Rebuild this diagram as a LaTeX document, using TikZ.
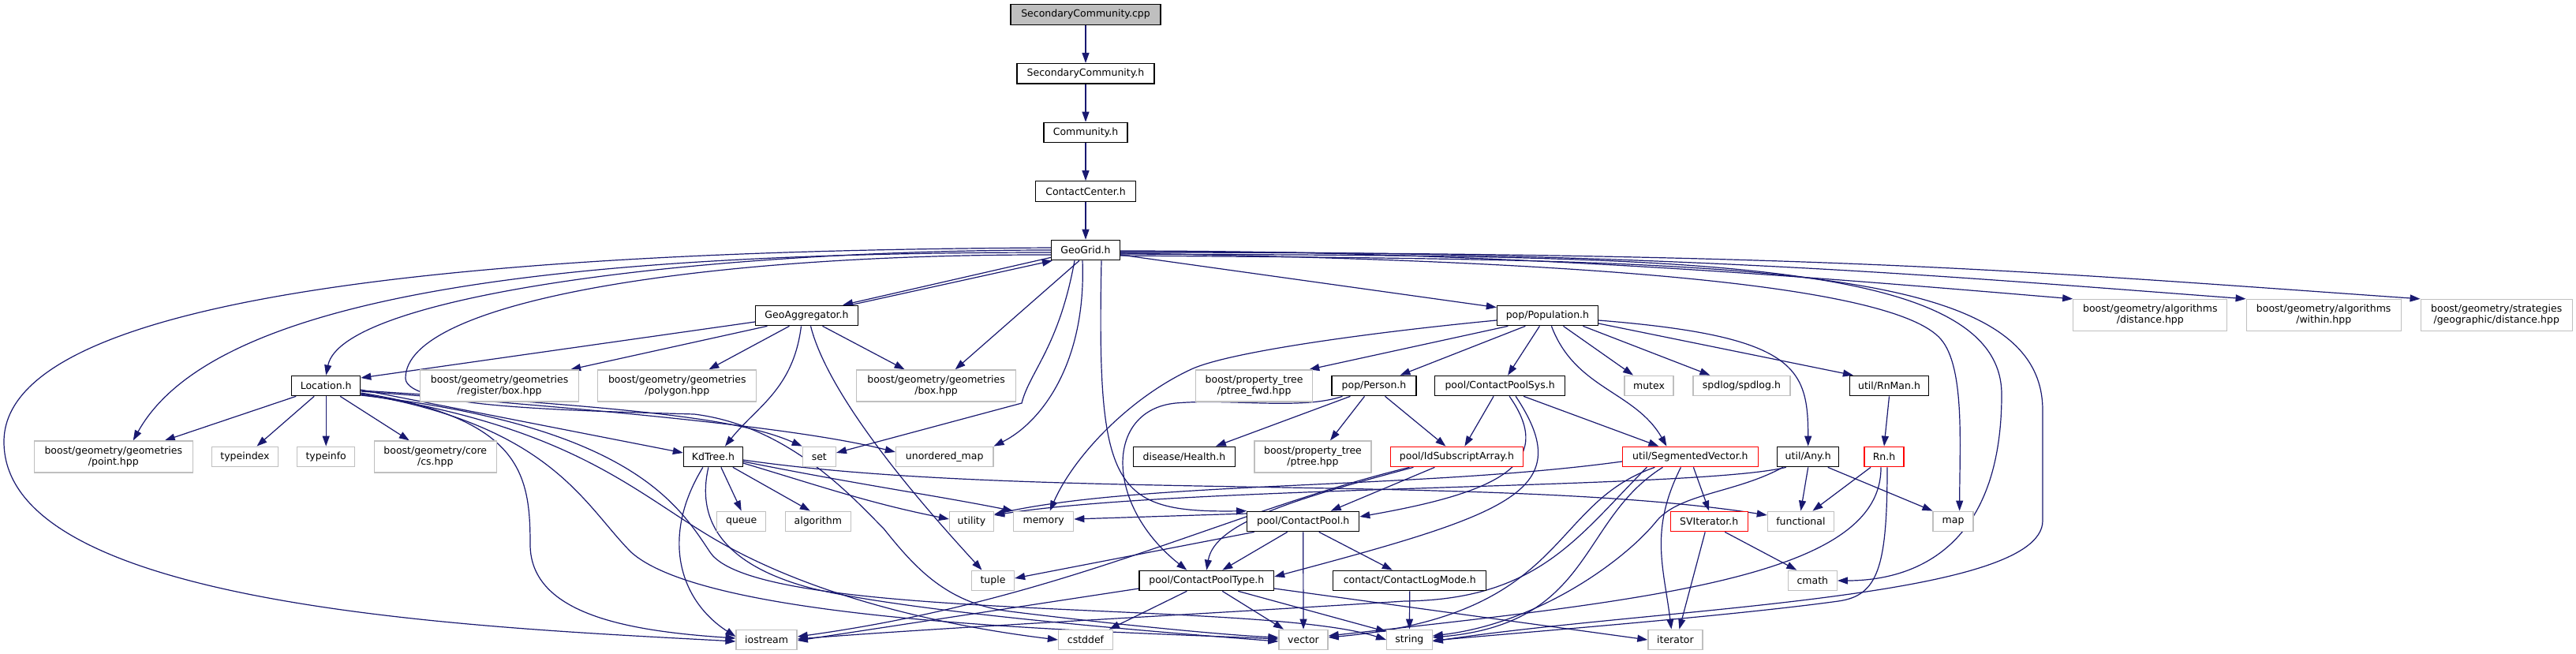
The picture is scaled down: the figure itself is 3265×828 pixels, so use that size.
\documentclass[tikz,border=0pt]{standalone}
\usepackage{fontspec}
\setmainfont{DejaVu Sans}
\usetikzlibrary{arrows.meta,backgrounds}
\definecolor{mblue}{RGB}{25,25,112}
\definecolor{gsev}{RGB}{191,191,191}
\begin{document}
\begin{tikzpicture}[x=1pt,y=-1pt,
  base/.style={fill=white, inner sep=0pt, align=center, minimum height=25.5pt, font=\fontsize{12.5}{14}\selectfont},
  blk/.style={base, draw=black, line width=1.2pt},
  rootn/.style={base, draw=black, line width=1.2pt, fill=gsev},
  gry/.style={base, draw=gsev, line width=1.3pt},
  gry2/.style={gry, minimum height=40pt},
  redn/.style={base, draw=red, line width=1.2pt},
  edg/.style={draw=mblue, line width=1.2pt, -{Triangle[length=13pt,width=9pt]}}
]
\useasboundingbox (0,0) rectangle (3265,828);
% row 0-4
\node[rootn, minimum width=190pt] (cpp) at (1376,18.5) {SecondaryCommunity.cpp};
\node[blk, minimum width=174pt] (sch) at (1376,93.3) {SecondaryCommunity.h};
\node[blk, minimum width=106pt] (com) at (1376,168) {Community.h};
\node[blk, minimum width=127pt] (cc) at (1376,242.5) {ContactCenter.h};
\node[blk, minimum width=87pt] (gg) at (1376,317) {GeoGrid.h};
% row 5
\node[blk, minimum width=130pt] (ga) at (1022.5,400) {GeoAggregator.h};
\node[blk, minimum width=128pt] (pop) at (1961.4,400) {pop/Population.h};
\node[gry2, minimum width=195pt] (bad) at (2725.3,399.5) {boost/geometry/algorithms\\/distance.hpp};
\node[gry2, minimum width=196pt] (baw) at (2945.2,399.5) {boost/geometry/algorithms\\/within.hpp};
\node[gry2, minimum width=192pt] (bsd) at (3164.2,399.5) {boost/geometry/strategies\\/geographic/distance.hpp};
% row 6
\node[blk, minimum width=87pt] (loc) at (413.2,489) {Location.h};
\node[gry2, minimum width=201pt] (brb) at (633.1,489) {boost/geometry/geometries\\/register/box.hpp};
\node[gry2, minimum width=201pt] (bpo) at (858.3,489) {boost/geometry/geometries\\/polygon.hpp};
\node[gry2, minimum width=202pt] (bbox) at (1186.6,489) {boost/geometry/geometries\\/box.hpp};
\node[gry2, minimum width=148pt] (ptf) at (1589.6,489) {boost/property\_tree\\/ptree\_fwd.hpp};
\node[blk, minimum width=107pt] (per) at (1741.5,489) {pop/Person.h};
\node[blk, minimum width=165pt] (cps) at (1901.1,489) {pool/ContactPoolSys.h};
\node[gry, minimum width=62pt] (mutex) at (2090,489) {mutex};
\node[gry, minimum width=123pt] (spd) at (2207.4,489) {spdlog/spdlog.h};
\node[blk, minimum width=100pt] (rnm) at (2394.5,489) {util/RnMan.h};
% row 7
\node[gry2, minimum width=201pt] (bpt) at (143.8,579) {boost/geometry/geometries\\/point.hpp};
\node[gry, minimum width=83.5pt] (tid) at (310.5,579) {typeindex};
\node[gry, minimum width=73pt] (tinf) at (413.2,579) {typeinfo};
\node[gry2, minimum width=155pt] (bcs) at (551.8,579) {boost/geometry/core\\/cs.hpp};
\node[blk, minimum width=75pt] (kd) at (903.9,579) {KdTree.h};
\node[gry, minimum width=42pt] (set) at (1038.3,579) {set};
\node[gry, minimum width=123.5pt] (umap) at (1197.2,579) {unordered\_map};
\node[blk, minimum width=129pt] (hea) at (1500.9,579) {disease/Health.h};
\node[gry2, minimum width=148pt] (ptr) at (1664,579) {boost/property\_tree\\/ptree.hpp};
\node[redn, minimum width=168pt] (isa) at (1846.4,579) {pool/IdSubscriptArray.h};
\node[redn, minimum width=172pt] (sv) at (2142.4,579) {util/SegmentedVector.h};
\node[blk, minimum width=78pt] (any) at (2291.7,579) {util/Any.h};
\node[redn, minimum width=50pt] (rn) at (2388,579) {Rn.h};
% row 8
\node[gry, minimum width=62pt] (queue) at (939.7,661) {queue};
\node[gry, minimum width=83pt] (alg) at (1036.8,661) {algorithm};
\node[gry, minimum width=56pt] (uti) at (1231.5,661) {utility};
\node[gry, minimum width=76pt] (mem) at (1322.7,661) {memory};
\node[blk, minimum width=142pt] (cp) at (1651.7,661) {pool/ContactPool.h};
\node[redn, minimum width=98pt] (svi) at (2166.2,661) {SVIterator.h};
\node[gry, minimum width=84pt] (fun) at (2282.4,661) {functional};
\node[gry, minimum width=51pt] (map) at (2475.6,661) {map};
% row 9
\node[gry, minimum width=54pt] (tup) at (1258.5,736) {tuple};
\node[blk, minimum width=170.5pt] (cpt) at (1529.3,736) {pool/ContactPoolType.h};
\node[blk, minimum width=194pt] (clm) at (1786.8,736) {contact/ContactLogMode.h};
\node[gry, minimum width=62pt] (cmath) at (2297.3,736) {cmath};
% row 10
\node[gry, minimum width=77pt] (ios) at (971.6,811) {iostream};
\node[gry, minimum width=69pt] (cst) at (1376,811) {cstddef};
\node[gry, minimum width=62pt] (vec) at (1652,811) {vector};
\node[gry, minimum width=57.5pt] (str) at (1786.4,811) {string};
\node[gry, minimum width=69pt] (itr) at (2123.4,811) {iterator};

\begin{scope}[on background layer]
\fill[white] (0,0) rectangle (3265,828);
% chain
\draw[edg] (cpp) -- (sch);
\draw[edg] (sch) -- (com);
\draw[edg] (com) -- (cc);
\draw[edg] (cc) -- (gg);
% GeoGrid
\draw[edg] ([yshift=4pt]gg.south west) -- ([xshift=-20pt]ga.north east);
\draw[edg] ([xshift=-10pt]ga.north east) -- ([xshift=2pt]gg.south west);
\draw[edg] (gg.west) .. controls +(-450,0) and +(20,-100) .. (loc.north);
\draw[edg] ([yshift=-3pt]gg.west) .. controls +(-650,0) and +(100,-180) .. ([xshift=25pt]bpt.north);
\draw[edg] ([yshift=3pt]gg.west) .. controls (500,318) and (5,390) .. (5,560) .. controls (5,770) and (600,795) .. ([yshift=-2pt]ios.west);
\draw[edg] ([yshift=-6pt]gg.west) .. controls (900,322) and (512,380) .. (514,480) .. controls (516,515) and (700,520) .. (880,525) .. controls (1000,540) and (1080,630) .. (1120,670) .. controls (1160,720) and (1200,765) .. (1280,775) .. controls (1400,790) and (1550,805) .. ([yshift=3pt]vec.west);
\draw[edg] ([xshift=-8pt]gg.south) -- ([xshift=24pt]bbox.north);
\draw[edg] ([xshift=-14pt]gg.south) .. controls +(-20,110) and +(10,-40) .. (1295,511) -- ([yshift=5pt]set.east);
\draw[edg] ([xshift=-4pt]gg.south) .. controls +(5,130) and +(60,-30) .. (umap.north east);
\draw[edg] ([xshift=20pt]gg.south) .. controls (1390,620) and (1410,650) .. (cp.north west);
\draw[edg] ([yshift=-6pt]gg.east) -- ([yshift=-3pt]pop.north west);
\draw[edg] ([yshift=-1pt]gg.east) .. controls +(500,0) and +(-300,-25) .. (bad.north west);
\draw[edg] ([yshift=-2pt]gg.east) .. controls +(700,0) and +(-400,-30) .. (baw.north west);
\draw[edg] ([yshift=-3pt]gg.east) .. controls +(900,0) and +(-500,-35) .. (bsd.north west);
\draw[edg] ([yshift=-4pt]gg.east) .. controls (2000,330) and (2400,360) .. (2460,430) .. controls (2490,465) and (2484,560) .. ([xshift=8pt]map.north);
\draw[edg] ([yshift=-5pt]gg.east) .. controls (2100,325) and (2537,320) .. (2537,500) .. controls (2537,700) and (2420,736) .. (cmath.east);
\draw[edg] ([yshift=-7pt]gg.east) .. controls (2200,330) and (2589,330) .. (2589,520) -- (2589,660) .. controls (2589,760) and (2100,770) .. ([yshift=-2pt]str.east);
% GeoAggregator
\draw[edg] ([yshift=-8pt]ga.west) -- ([yshift=10pt]loc.east);
\draw[edg] ([xshift=-50pt]ga.south) -- ([xshift=90pt]brb.north);
\draw[edg] ([xshift=-22pt]ga.south) -- ([xshift=40pt]bpo.north);
\draw[edg] ([xshift=20pt]ga.south) -- ([xshift=-40pt]bbox.north);
\draw[edg] ([xshift=-7pt]ga.south) .. controls +(-10,80) and +(40,-50) .. ([xshift=15pt]kd.north);
\draw[edg] ([xshift=5pt]ga.south) .. controls +(25,100) and +(-50,-55) .. ([xshift=-14pt]tup.north);
% Location
\draw[edg] ([xshift=-38pt]loc.south) -- ([xshift=65pt]bpt.north);
\draw[edg] ([xshift=-15pt]loc.south) -- ([xshift=15pt]tid.north);
\draw[edg] (loc.south) -- (tinf.north);
\draw[edg] ([xshift=18pt]loc.south) -- ([xshift=-33pt]bcs.north);
\draw[edg] ([yshift=-5pt]loc.east) -- ([yshift=5pt]kd.west);
\draw[edg] ([yshift=-6pt]loc.east) .. controls +(350,22) and +(-80,-35) .. (set.north west);
\draw[edg] ([yshift=-7pt]loc.east) .. controls +(400,30) and +(-100,-25) .. ([yshift=6pt]umap.west);
\draw[edg] ([yshift=-9pt]loc.east) .. controls (660,530) and (672,600) .. (672,690) .. controls (672,780) and (800,800) .. ([yshift=2pt]ios.west);
\draw[edg] ([yshift=-10pt]loc.east) .. controls (700,540) and (740,640) .. (800,700) .. controls (900,790) and (1400,800) .. ([yshift=1pt]vec.west);
\draw[edg] ([yshift=-11pt]loc.east) .. controls (720,540) and (800,620) .. (900,680) .. controls (1050,770) and (1250,800) .. (cst.west);
\draw[edg] ([yshift=-12pt]loc.east) .. controls (800,540) and (860,640) .. (900,700) .. controls (960,790) and (1600,760) .. (str.west);
% KdTree
\draw[edg] ([xshift=10pt]kd.south) -- (queue.north);
\draw[edg] ([xshift=25pt]kd.south) -- ([xshift=-10pt]alg.north);
\draw[edg] ([yshift=-8pt]kd.east) .. controls +(100,30) and +(-100,-20) .. ([yshift=3pt]uti.west);
\draw[edg] ([yshift=-6pt]kd.east) .. controls +(150,30) and +(-100,-20) .. (mem.north west);
\draw[edg] ([yshift=-4pt]kd.east) .. controls (1300,635) and (1900,600) .. ([yshift=8pt]fun.west);
\draw[edg] ([xshift=-13pt]kd.south) .. controls +(-55,90) and +(-70,-45) .. ([yshift=4pt]ios.west);
\draw[edg] ([xshift=-6pt]kd.south) .. controls (880,670) and (930,720) .. (1030,746) .. controls (1150,775) and (1450,800) .. ([yshift=-2pt]vec.west);
% Population
\draw[edg] ([yshift=-6pt]pop.west) .. controls (1750,420) and (1560,445) .. (1510,468) .. controls (1430,505) and (1360,580) .. ([xshift=8pt]mem.north);
\draw[edg] ([xshift=-50pt]pop.south) -- ([xshift=-5pt]ptf.north east);
\draw[edg] ([xshift=-28pt]pop.south) -- ([xshift=33pt]per.north);
\draw[edg] ([xshift=-10pt]pop.south) -- ([xshift=10pt]cps.north);
\draw[edg] ([xshift=20pt]pop.south) -- ([xshift=-20pt]mutex.north);
\draw[edg] ([xshift=45pt]pop.south) -- ([xshift=-40pt]spd.north);
\draw[edg] ([xshift=5pt]pop.south) .. controls +(30,80) and +(-40,-70) .. ([xshift=-30pt]sv.north);
\draw[edg] ([yshift=-6pt]pop.east) .. controls +(250,20) and +(0,-100) .. (any.north);
\draw[edg] ([yshift=-10pt]pop.east) -- ([xshift=5pt]rnm.north west);
% Person
\draw[edg] ([xshift=-30pt]per.south) -- ([xshift=40pt]hea.north);
\draw[edg] ([xshift=-12pt]per.south) -- ([xshift=22pt]ptr.north);
\draw[edg] ([xshift=14pt]per.south) -- ([xshift=-14pt]isa.north);
\draw[edg] ([xshift=-40pt]per.south) .. controls (1650,520) and (1560,505) .. (1490,511) .. controls (1400,520) and (1400,640) .. ([xshift=-25pt]cpt.north);
% ContactPoolSys
\draw[edg] ([xshift=-8pt]cps.south) -- ([xshift=10pt]isa.north);
\draw[edg] ([xshift=12pt]cps.south) .. controls +(62,88) and +(170,-30) .. ([yshift=6pt]cp.east);
\draw[edg] ([xshift=20pt]cps.south) .. controls +(80,120) and +(300,-80) .. ([yshift=5pt]cpt.east);
\draw[edg] ([xshift=30pt]cps.south) -- ([xshift=-40pt]sv.north);
% IdSubscriptArray
\draw[edg] ([xshift=-28pt]isa.south) -- ([xshift=35pt]cp.north);
\draw[edg] ([xshift=-55pt]isa.south) .. controls +(-150,40) and +(10,-60) .. (cpt.north);
\draw[edg] ([xshift=-60pt]isa.south) .. controls (1550,650) and (1350,760) .. ([yshift=4pt]ios.east);
% ContactPool
\draw[edg] ([xshift=-20pt]cp.south) -- ([xshift=20pt]cpt.north);
\draw[edg] ([xshift=20pt]cp.south) -- ([xshift=-22pt]clm.north);
\draw[edg] (cp.south) -- (vec.north);
\draw[edg] ([xshift=-62pt]cp.south) -- ([yshift=3pt]tup.east);
\draw[edg] ([yshift=10pt]cp.west) -- ([yshift=3pt]mem.east);
% ContactPoolType
\draw[edg] ([xshift=-25pt]cpt.south) -- ([xshift=30pt]cst.north);
\draw[edg] ([xshift=20pt]cpt.south) -- ([xshift=-25pt]vec.north);
\draw[edg] ([xshift=40pt]cpt.south) -- ([yshift=-3pt]str.north west);
\draw[edg] ([yshift=-10pt]cpt.west) -- ([yshift=-1pt]ios.east);
\draw[edg] ([yshift=-10pt]cpt.east) -- (itr.west);
\draw[edg] (clm.south) -- (str.north);
% SegmentedVector
\draw[edg] ([xshift=4pt]sv.south) -- (svi.north);
\draw[edg] ([xshift=-12pt]sv.south) .. controls +(-40,80) and +(-10,-80) .. ([xshift=-5pt]itr.north);
\draw[edg] ([yshift=-6pt]sv.west) .. controls (1800,620) and (1450,610) .. ([yshift=9pt]uti.east);
\draw[edg] ([xshift=-45pt]sv.south) .. controls (1960,640) and (1990,780) .. ([yshift=3pt]vec.east);
\draw[edg] ([xshift=-35pt]sv.south) .. controls (2000,660) and (2020,790) .. ([yshift=3pt]str.east);
\draw[edg] ([xshift=-55pt]sv.south) .. controls (2000,680) and (1950,760) .. (1780,762) .. controls (1500,780) and (1200,795) .. ([yshift=1pt]ios.east);
\draw[edg] ([xshift=-5pt]svi.south) -- ([xshift=5pt]itr.north);
\draw[edg] ([xshift=20pt]svi.south) -- ([xshift=-20pt]cmath.north);
% Any
\draw[edg] (any.south) -- (fun.north);
\draw[edg] ([xshift=25pt]any.south) -- (map.north west);
\draw[edg] ([xshift=-28pt]any.south) .. controls (2150,620) and (1500,615) .. ([yshift=8pt]uti.east);
\draw[edg] ([xshift=-32pt]any.south) .. controls (2200,625) and (2130,625) .. (2100,660) .. controls (2060,710) and (1950,790) .. ([yshift=5pt]str.east);
% Rn
\draw[edg] (rnm.south) -- (rn.north);
\draw[edg] ([xshift=-17pt]rn.south) -- ([xshift=15pt]fun.north);
\draw[edg] ([xshift=-4pt]rn.south) .. controls (2385,730) and (2100,760) .. ([yshift=5pt]vec.east);
\draw[edg] ([xshift=4pt]rn.south) .. controls (2392,720) and (2380,755) .. (2330,762) .. controls (2200,780) and (1950,800) .. ([yshift=-1pt]str.east);
\end{scope}
\end{tikzpicture}
\end{document}
